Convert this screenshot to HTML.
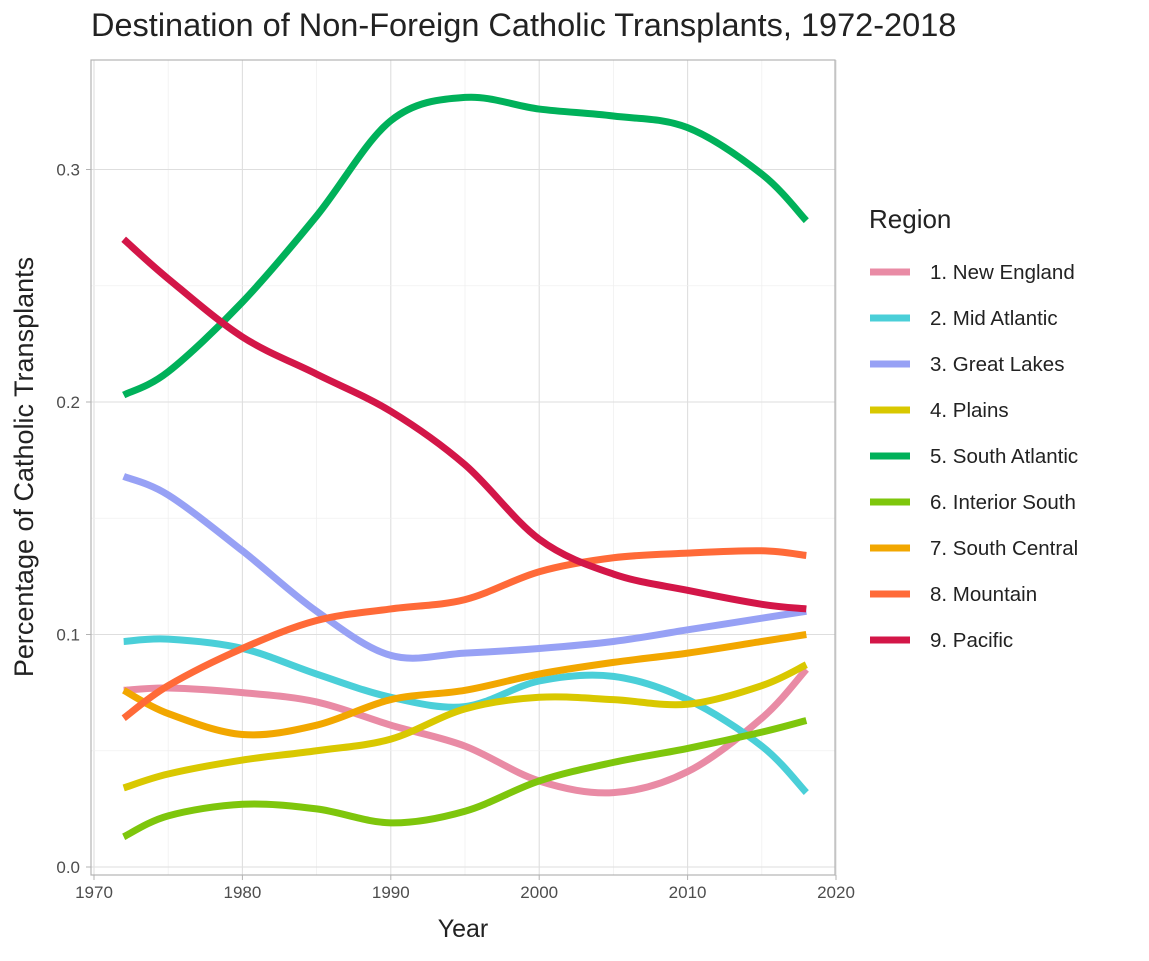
<!DOCTYPE html>
<html><head><meta charset="utf-8"><style>
body{margin:0;background:#fff;}
svg text{font-family:"Liberation Sans",sans-serif;}
</style></head><body>
<svg id="chart" width="1149" height="956" xmlns="http://www.w3.org/2000/svg">
<text x="91" y="36" font-size="32.5" fill="#222">Destination of Non-Foreign Catholic Transplants, 1972-2018</text>
<g id="grid"></g>
<g id="lines"></g>
<rect x="91" y="60" width="744" height="815" fill="none" stroke="#b3b3b3" stroke-width="1.2"/>
<g id="axes"></g>
<text x="463" y="937" font-size="25" fill="#222" text-anchor="middle">Year</text>
<text transform="translate(33,467) rotate(-90)" font-size="27" fill="#222" text-anchor="middle">Percentage of Catholic Transplants</text>
<text x="869" y="228" font-size="26" fill="#222">Region</text>
<g id="legend"></g>
</svg>
<script>
const years = [1972,1975,1980,1985,1990,1995,2000,2005,2010,2015,2018];
const regions = ["1. New England","2. Mid Atlantic","3. Great Lakes","4. Plains","5. South Atlantic","6. Interior South","7. South Central","8. Mountain","9. Pacific"];
const newEngland = [.076,.077,.075,.071,.061,.052,.037,.032,.041,.064,.085];
const midAtlantic = [.097,.098,.094,.083,.073,.069,.080,.082,.072,.052,.032];
const greatLakes = [.168,.160,.136,.110,.091,.092,.094,.097,.102,.107,.110];
const plains = [.034,.040,.046,.050,.055,.068,.073,.072,.070,.078,.087];
const southAtlantic = [.203,.213,.243,.280,.321,.331,.326,.323,.318,.298,.278];
const interiorSouth = [.013,.022,.027,.025,.019,.024,.037,.045,.051,.058,.063];
const southCentral = [.076,.066,.057,.061,.072,.076,.083,.088,.092,.097,.100];
const mountain = [.064,.078,.094,.106,.111,.115,.127,.133,.135,.136,.134];
const pacific = [.270,.253,.228,.212,.196,.173,.141,.126,.119,.113,.111];
const xTicks = [1970,1980,1990,2000,2010,2020];
const yTicks = [0,0.1,0.2,0.3];
const yTickLabels = ["0.0","0.1","0.2","0.3"];

const series=[newEngland,midAtlantic,greatLakes,plains,southAtlantic,interiorSouth,southCentral,mountain,pacific];
const colors=["#e98ba5","#4acfd8","#97a1f5","#d9c800","#00b15a","#7ec60c","#f2a700","#ff6a38","#d31648"];
const NS="http://www.w3.org/2000/svg";
const X=y=>94+(y-1970)*14.84;
const Y=v=>867-v*2325;
function mk(t,a,p){const e=document.createElementNS(NS,t);for(const k in a)e.setAttribute(k,a[k]);p.appendChild(e);return e;}
const grid=document.getElementById('grid'),axes=document.getElementById('axes'),lines=document.getElementById('lines'),legend=document.getElementById('legend');
for(let yr=1970;yr<=2020;yr+=5){const l=mk('line',{x1:X(yr),x2:X(yr),y1:60,y2:875,stroke:yr%10?'#f0f0f0':'#dedede','stroke-width':yr%10?0.8:1.1},grid);
}
for(let v=0;v<=0.33;v+=0.05){const major=Math.round(v*100)%10===0;const l=mk('line',{x1:91,x2:835,y1:Y(v),y2:Y(v),stroke:major?'#dedede':'#f0f0f0','stroke-width':major?1.1:0.8},grid);
}
xTicks.forEach(t=>{const tk=mk('line',{x1:X(t),x2:X(t),y1:875,y2:880,stroke:'#b3b3b3'},axes);

const tx=mk('text',{x:X(t),y:898,'font-size':17,fill:'#4d4d4d','text-anchor':'middle'},axes);tx.textContent=t;
});
yTicks.forEach((t,i)=>{const tk=mk('line',{x1:86,x2:91,y1:Y(t),y2:Y(t),stroke:'#b3b3b3'},axes);

const tx=mk('text',{x:80,y:Y(t)+6,'font-size':17,fill:'#4d4d4d','text-anchor':'end'},axes);tx.textContent=yTickLabels[i];
});
function path(vals){const p=years.map((y,i)=>[X(y),Y(vals[i])]);let d='M'+p[0][0]+','+p[0][1];
for(let i=0;i<p.length-1;i++){const p0=p[Math.max(0,i-1)],p1=p[i],p2=p[i+1],p3=p[Math.min(p.length-1,i+2)];
d+=' C'+(p1[0]+(p2[0]-p0[0])/6)+','+(p1[1]+(p2[1]-p0[1])/6)+' '+(p2[0]-(p3[0]-p1[0])/6)+','+(p2[1]-(p3[1]-p1[1])/6)+' '+p2[0]+','+p2[1];}return d;}
series.forEach((s,i)=>{const l=mk('path',{d:path(s),fill:'none',stroke:colors[i],'stroke-width':7},lines);


const ly=272+i*46;
const k=mk('line',{x1:870,x2:910,y1:ly,y2:ly,stroke:colors[i],'stroke-width':7},legend);

const t=mk('text',{x:930,y:ly+7,'font-size':20.5,fill:'#222'},legend);t.textContent=regions[i];
});
</script>
</body></html>
